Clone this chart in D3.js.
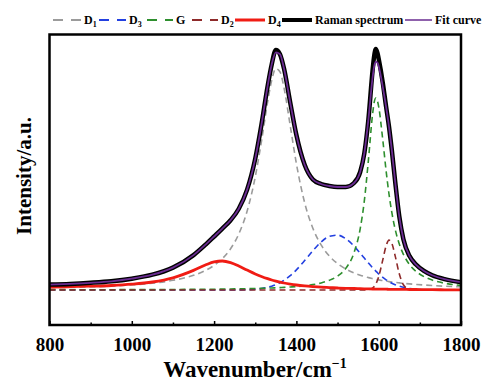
<!DOCTYPE html>
<html>
<head>
<meta charset="utf-8">
<script src="https://d3js.org/d3.v7.min.js"></script>
<style>
  body { margin: 0; background: #fff; }
  text { font-family: "Liberation Serif", "Times New Roman", serif; font-weight: bold; }
</style>
</head>
<body>
<div id="chart"></div>
<script>
// wavenumber grid (cm-1), denser near the peaks
const wavenumber = [800,850,900,950,1000,1050,1100,1150,1180,1200,1220,1240,1260,1280,1300,1315,1330,1340,1350,1360,
  1370,1385,1400,1420,1440,1460,1480,1500,1520,1540,1555,1565,1575,1585,1589,1593,1597,1600,1610,1618,
  1625,1632,1640,1650,1660,1675,1690,1710,1730,1760,1800];

// fitted bands (a.u.)
const bandD1 = [2.1,2.5,3.1,3.9,5.1,6.8,9.7,14.7,19.7,24.6,31.4,41.3,56.0,78.5,113.1,148.5,187.9,209.8,221.3,218.3,
  202.0,164.3,126.3,87.4,61.7,45.1,34.0,26.4,21.0,17.1,14.8,13.5,12.4,11.4,11.0,10.7,10.4,10.1,9.4,8.9,
  8.4,8.0,7.6,7.1,6.7,6.1,5.6,5.0,4.5,3.8,3.2];
const bandD3 = [0,0,0,0,0,0,0,0,0,0,0,0,0.1,0.3,0.8,1.5,2.7,3.8,5.3,7.2,
  9.7,14.3,20.1,29.4,39.3,48.0,53.6,54.9,51.3,43.9,36.8,31.9,27.0,22.3,20.6,18.9,17.3,16.1,12.6,10.2,
  8.4,6.8,5.3,3.8,2.7,1.5,0.8,0.3,0.1,0,0];
const bandG = [0.2,0.2,0.3,0.3,0.4,0.4,0.5,0.7,0.8,0.8,0.9,1.0,1.2,1.3,1.5,1.7,1.9,2.0,2.2,2.4,
  2.6,3.0,3.4,4.2,5.4,7.1,9.7,13.9,21.6,37.3,61.2,88.9,129.8,175.4,187.6,192.0,189.0,183.2,149.8,119.2,
  96.0,77.3,60.8,46.0,35.7,25.4,18.9,13.4,9.9,6.8,4.5];
const bandD2 = [0,0,0,0,0,0,0,0,0,0,0,0,0,0,0,0,0,0,0,0,
  0,0,0,0,0,0,0,0,0,0,0,0,0.3,1.9,3.5,6.0,9.7,13.4,30.3,44.1,
  49.9,46.6,34.1,16.2,5.2,0.5,0,0,0,0,0];
const bandD4 = [3.0,3.3,3.8,4.5,5.8,8.0,12.2,19.6,25.2,28.1,29.0,27.4,24.0,19.9,16.0,13.5,11.3,10.0,8.9,7.9,
  7.0,5.9,5.0,4.1,3.4,2.8,2.4,2.0,1.7,1.5,1.3,1.2,1.1,1.0,1.0,0.9,0.9,0.9,0.8,0.8,
  0.7,0.7,0.7,0.6,0.6,0.5,0.5,0.4,0.3,0.2,0.1];
// measured spectrum and fit envelope
const raman = [5.5,6.1,7.2,8.7,11.3,15.3,22.4,34.9,45.7,53.5,61.4,69.8,81.3,100.1,131.4,165.1,203.7,225.6,240.0,235.8,
  221.2,187.4,154.9,125.2,110.5,106.0,104.0,103.0,103.0,107.0,118.0,136.5,170.6,219.0,234.0,241.0,237.0,231.0,207.0,183.2,
  163.4,139.4,108.5,73.7,50.8,33.9,25.7,19.1,14.8,10.9,7.8];
const fit = [5.3,6.1,7.2,8.7,11.3,15.3,22.4,34.9,45.7,53.5,61.4,69.8,81.3,100.1,131.4,165.1,203.7,225.6,237.7,235.8,
  221.2,187.4,154.9,125.2,110.5,106.0,104.0,103.0,103.0,107.0,118.0,136.5,170.6,212.0,223.6,228.4,227.2,223.7,202.9,183.2,
  163.4,139.4,108.5,73.7,50.8,33.9,25.7,19.1,14.8,10.9,7.8];

const xTicks = [800,1000,1200,1400,1600,1800];
const xMinor = [900,1100,1300,1500,1700];

const width = 485, height = 381;
const margin = {top: 34.5, right: 24, bottom: 56, left: 49.5};
const w = width - margin.left - margin.right;
const h = height - margin.top - margin.bottom;

const svg = d3.select('#chart').append('svg')
  .attr('width', width).attr('height', height);

const x = d3.scaleLinear().domain([800, 1800]).range([0, w]);
const y = d3.scaleLinear().domain([-35, 255.5]).range([h, 0]);

const plot = svg.append('g').attr('transform', `translate(${margin.left},${margin.top})`);

plot.append('defs').append('clipPath').attr('id', 'clip')
  .append('rect').attr('width', w).attr('height', h);

const series = [
  {key: 'D1', values: bandD1, color: '#9b9b9b', dash: '6,4', sw: 1.6},
  {key: 'D3', values: bandD3, color: '#2340e0', dash: '6,4', sw: 1.6},
  {key: 'G',  values: bandG,  color: '#2e8f2e', dash: '6,4', sw: 1.6},
  {key: 'D2', values: bandD2, color: '#8e2a2a', dash: '6,4', sw: 1.6},
  {key: 'D4', values: bandD4, color: '#f01c14', dash: null, sw: 2.8},
  {key: 'Raman spectrum', values: raman, color: '#000000', dash: null, sw: 4.5},
  {key: 'Fit curve', values: fit, color: '#6a2c91', dash: null, sw: 1.8}
];

const line = d3.line()
  .x((d, i) => x(wavenumber[i]))
  .y(d => y(d))
  .curve(d3.curveMonotoneX);

const lines = plot.append('g').attr('clip-path', 'url(#clip)');
series.forEach(s => {
  lines.append('path')
    .datum(s.values)
    .attr('fill', 'none')
    .attr('stroke', s.color)
    .attr('stroke-width', s.sw)
    .attr('stroke-dasharray', s.dash)
    .attr('stroke-linejoin', 'round')
    .attr('d', line);
});

// axes, ticks pointing inward
const xAxis = d3.axisBottom(x).tickValues(xTicks).tickSizeInner(-4).tickSizeOuter(0).tickPadding(13)
  .tickFormat(d3.format('d'));
const xAxisMinor = d3.axisBottom(x).tickValues(xMinor).tickSizeInner(-2.5).tickSizeOuter(0).tickFormat('');

const xg = plot.append('g').attr('transform', `translate(0,${h})`).call(xAxis);
plot.append('g').attr('transform', `translate(0,${h})`).call(xAxisMinor);
plot.selectAll('.domain').remove();
plot.selectAll('.tick line').attr('stroke', '#000').attr('stroke-width', 1.5);
xg.selectAll('text').attr('font-size', 19).attr('fill', '#000')
  .style('font-family', '"Liberation Serif", "Times New Roman", serif').style('font-weight', 'bold');

// frame
plot.append('rect')
  .attr('width', w).attr('height', h)
  .attr('fill', 'none').attr('stroke', '#000').attr('stroke-width', 2.5);

// axis titles
const xt = svg.append('text')
  .attr('x', 255).attr('y', 377)
  .attr('text-anchor', 'middle')
  .attr('font-size', 23);
xt.append('tspan').text('Wavenumber/cm');
xt.append('tspan').attr('dy', -9).attr('font-size', 14).text('\u22121');

svg.append('text')
  .attr('transform', 'translate(31,176) rotate(-90)')
  .attr('text-anchor', 'middle')
  .attr('font-size', 21)
  .text('Intensity/a.u.');

// legend
const legendX = [53, 99, 147, 192, 235, 282, 405];
const legendLen = [28, 27, 26, 26, 30, 30, 27];
const legendLabels = [['D', '1'], ['D', '3'], ['G', ''], ['D', '2'], ['D', '4'], ['Raman spectrum', ''], ['Fit curve', '']];
const legend = svg.append('g');
series.forEach((s, i) => {
  const gx = legendX[i];
  legend.append('line')
    .attr('x1', gx).attr('x2', gx + legendLen[i])
    .attr('y1', 20).attr('y2', 20)
    .attr('stroke', s.color)
    .attr('stroke-width', s.key === 'Raman spectrum' ? 4 : (s.key === 'D4' ? 3 : (s.key === 'Fit curve' ? 1.5 : 1.8)))
    .attr('stroke-dasharray', s.dash ? '10,8' : null);
  const t = legend.append('text')
    .attr('x', gx + legendLen[i] + 3).attr('y', 24)
    .attr('font-size', 12);
  t.append('tspan').text(legendLabels[i][0]);
  if (legendLabels[i][1]) {
    t.append('tspan').attr('dy', 3).attr('font-size', 8).text(legendLabels[i][1]);
  }
});
</script>
</body>
</html>
